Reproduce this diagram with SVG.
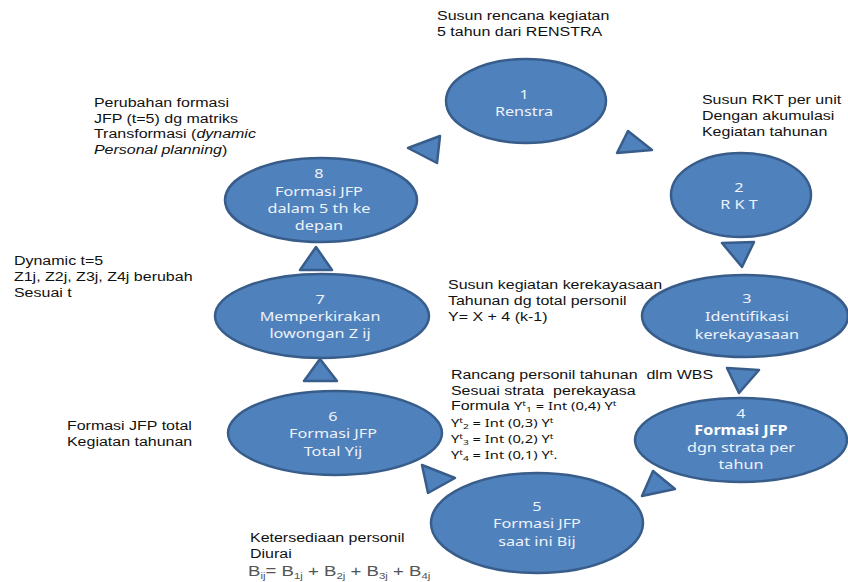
<svg xmlns="http://www.w3.org/2000/svg" width="848" height="582" viewBox="0 0 848 582">
<style>
.n{fill:#4f81bd;stroke:#385d8a;stroke-width:2.5}
.a{fill:#4f81bd;stroke:#385d8a;stroke-width:2.5;stroke-linejoin:round}
.t{font-family:"Liberation Sans",Arial,sans-serif;font-size:12.5px;fill:#111;white-space:pre}
.c{font-family:"Noto Sans","Open Sans",sans-serif;font-size:11.5px;fill:#111}
.l{font-family:"Noto Sans","Open Sans",sans-serif;font-size:13.5px;fill:#eef2f8;text-anchor:middle}
</style>
<rect width="848" height="582" fill="#fff"/>
<g id="connectors">
<polygon class="a" points="408,148 440,136 437,163"/>
<polygon class="a" points="628,131 652,150 617,153"/>
<polygon class="a" points="722,243 754,242 742,267"/>
<polygon class="a" points="727,368 759,370 739,393"/>
<polygon class="a" points="653,471 675,489 642,496"/>
<polygon class="a" points="422,465 455,478 428,493"/>
<polygon class="a" points="320,359 337,381 304,381"/>
<polygon class="a" points="316,247 332,270 300,270"/>
</g>
<g id="node1"><ellipse class="n" cx="526" cy="101" rx="80" ry="42"/>
<g transform="scale(1.2,1)"><text class="l" x="436.7" y="99">1</text><text class="l" x="436.7" y="116">Renstra</text></g></g>
<g id="node2"><ellipse class="n" cx="741" cy="195" rx="70" ry="42"/>
<g transform="scale(1.2,1)"><text class="l" x="615.8" y="192">2</text><text class="l" x="615.8" y="209">R K T</text></g></g>
<g id="node3"><ellipse class="n" cx="745" cy="316" rx="103" ry="41"/>
<g transform="scale(1.2,1)"><text class="l" x="622.5" y="303">3</text><text class="l" x="622.5" y="321">Identifikasi</text><text class="l" x="622.5" y="339">kerekayasaan</text></g></g>
<g id="node4"><ellipse class="n" cx="741" cy="440" rx="106" ry="42"/>
<g transform="scale(1.2,1)"><text class="l" x="617.5" y="418">4</text><text class="l" x="617.5" y="435" font-weight="bold" style="fill:#fff">Formasi JFP</text><text class="l" x="617.5" y="452">dgn strata per</text><text class="l" x="617.5" y="469">tahun</text></g></g>
<g id="node5"><ellipse class="n" cx="537" cy="523" rx="106" ry="50"/>
<g transform="scale(1.2,1)"><text class="l" x="447.5" y="511">5</text><text class="l" x="447.5" y="528">Formasi JFP</text><text class="l" x="447.5" y="546">saat ini Bij</text></g></g>
<g id="node6"><ellipse class="n" cx="335" cy="433" rx="107" ry="42"/>
<g transform="scale(1.2,1)"><text class="l" x="277.5" y="421">6</text><text class="l" x="277.5" y="438">Formasi JFP</text><text class="l" x="277.5" y="456">Total Yij</text></g></g>
<g id="node7"><ellipse class="n" cx="322" cy="316" rx="107" ry="42"/>
<g transform="scale(1.2,1)"><text class="l" x="266.7" y="304">7</text><text class="l" x="266.7" y="321">Memperkirakan</text><text class="l" x="266.7" y="338">lowongan Z ij</text></g></g>
<g id="node8"><ellipse class="n" cx="321" cy="200" rx="96" ry="42"/>
<g transform="scale(1.2,1)"><text class="l" x="265.8" y="178">8</text><text class="l" x="265.8" y="196">Formasi JFP</text><text class="l" x="265.8" y="213">dalam 5 th ke</text><text class="l" x="265.8" y="230">depan</text></g></g>
<g id="notes" transform="scale(1.28,1)">
<text class="t" x="341.4" y="20">Susun rencana kegiatan</text>
<text class="t" x="341.4" y="36">5 tahun dari RENSTRA</text>
<text class="t" x="548.4" y="104">Susun RKT per unit</text>
<text class="t" x="548.4" y="120">Dengan akumulasi</text>
<text class="t" x="548.4" y="136">Kegiatan tahunan</text>
<text class="t" x="73.4" y="107">Perubahan formasi</text>
<text class="t" x="73.4" y="123">JFP (t=5) dg matriks</text>
<text class="t" x="73.4" y="138">Transformasi (<tspan font-style="italic">dynamic</tspan></text>
<text class="t" x="73.4" y="154"><tspan font-style="italic">Personal planning</tspan>)</text>
<text class="t" x="10.9" y="265">Dynamic t=5</text>
<text class="t" x="10.9" y="281">Z1j, Z2j, Z3j, Z4j berubah</text>
<text class="t" x="10.9" y="297">Sesuai t</text>
<text class="t" x="350" y="289">Susun kegiatan kerekayasaan</text>
<text class="t" x="350" y="305">Tahunan dg total personil</text>
<text class="t" x="350" y="321">Y= X + 4 (k-1)</text>
<text class="t" x="352.3" y="379">Rancang personil tahunan  dlm WBS</text>
<text class="t" x="352.3" y="395">Sesuai strata  perekayasa</text>
<text class="t" x="352.3" y="410">Formula <tspan class="c">Y<tspan font-size="8" dy="-4">t</tspan><tspan font-size="8" dy="6">1</tspan><tspan dy="-2"> = Int (0,4) Y</tspan><tspan font-size="8" dy="-4">t</tspan></tspan></text>
<text class="c" x="352.3" y="427">Y<tspan font-size="8" dy="-4">t</tspan><tspan font-size="8" dy="6">2</tspan><tspan dy="-2"> = Int (0,3) Y</tspan><tspan font-size="8" dy="-4">t</tspan></text>
<text class="c" x="352.3" y="443">Y<tspan font-size="8" dy="-4">t</tspan><tspan font-size="8" dy="6">3</tspan><tspan dy="-2"> = Int (0,2) Y</tspan><tspan font-size="8" dy="-4">t</tspan></text>
<text class="c" x="352.3" y="459">Y<tspan font-size="8" dy="-4">t</tspan><tspan font-size="8" dy="6">4</tspan><tspan dy="-2"> = Int (0,1) Y</tspan><tspan font-size="8" dy="-4">t</tspan><tspan dy="4">.</tspan></text>
<text class="t" x="52.3" y="430">Formasi JFP total</text>
<text class="t" x="52.3" y="446">Kegiatan tahunan</text>
<text class="t" x="195.3" y="542">Ketersediaan personil</text>
<text class="t" x="195.3" y="558">Diurai</text>
<text class="t" x="193.8" y="576" style="fill:#555;font-size:14.5px">B<tspan font-size="9" dy="3">ij</tspan><tspan dy="-3">= B</tspan><tspan font-size="9" dy="3">1j</tspan><tspan dy="-3"> + B</tspan><tspan font-size="9" dy="3">2j</tspan><tspan dy="-3"> + B</tspan><tspan font-size="9" dy="3">3j</tspan><tspan dy="-3"> + B</tspan><tspan font-size="9" dy="3">4j</tspan></text>
</g>
</svg>
